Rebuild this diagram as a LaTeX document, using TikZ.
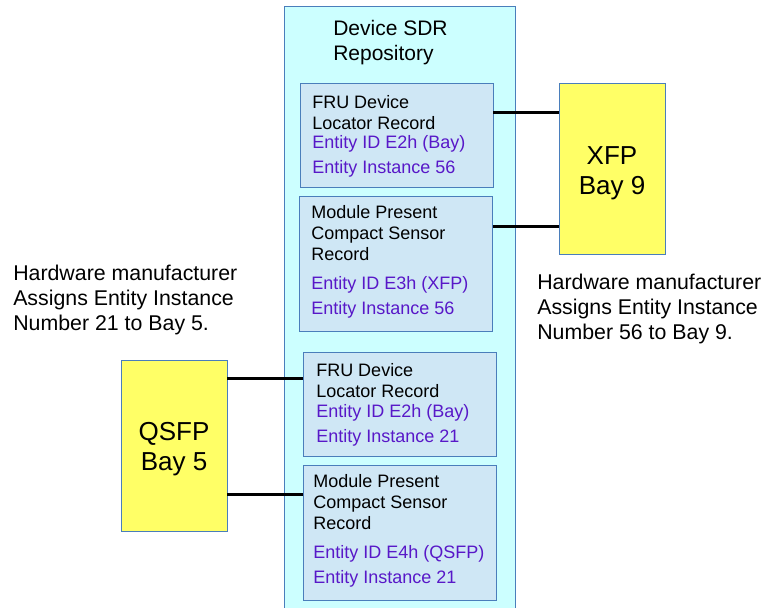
\documentclass[tikz,border=0pt]{standalone}
\usepackage{fontspec}
\setmainfont{Liberation Sans}
\usepackage{tikz}
\usetikzlibrary{positioning}
\definecolor{repocyan}{HTML}{CCFFFF}
\definecolor{recblue}{HTML}{CFE7F5}
\definecolor{edgeblue}{HTML}{4A7EBB}
\definecolor{bayyellow}{HTML}{FFFF66}
\definecolor{entpurple}{RGB}{88,24,200}

\begin{document}
\begin{tikzpicture}[x=0.75pt, y=-0.75pt,
  record/.style={draw=edgeblue, fill=recblue, line width=0.75pt, outer sep=0pt, minimum width=144.75pt},
  bay/.style={draw=edgeblue, fill=bayyellow, line width=0.75pt, outer sep=0pt, minimum width=79.5pt, minimum height=128.25pt},
  baytext/.style={align=center, inner sep=0pt, font=\fontsize{19.5}{22.5}\selectfont},
  rectext/.style={anchor=base west, align=left, inner sep=0pt, font=\fontsize{13.5}{15.5}\selectfont},
  idtext/.style={rectext, text=entpurple, font=\fontsize{13.5}{18.5}\selectfont},
  note/.style={anchor=base west, align=left, inner sep=0pt, font=\fontsize{16}{18.75}\selectfont},
  link/.style={line width=2.25pt}]
  \useasboundingbox (0,0) rectangle (764,607);
  % Repository column runs off the bottom of the page
  % (text nodes are placed by the baseline of their last line)
  \node[fill=repocyan, draw=edgeblue, line width=0.75pt, minimum width=173.25pt, minimum height=454.5pt, outer sep=0pt] (repo) at (399.5,309) {};
  \node[anchor=base west, align=left, inner sep=0pt, font=\fontsize{15.75}{18.75}\selectfont] (title) at (333,60) {Device SDR\\Repository};
  % Records for the XFP bay
  \node[record, minimum height=78pt] (fru1) at (396.5,135) {};
  \node[rectext] (fru1txt) at (312,129) {FRU Device\\Locator Record};
  \node[idtext] (fru1id) at (312,173) {Entity ID E2h (Bay)\\Entity Instance 56};
  \node[record, minimum height=101.25pt] (mps1) at (396,264) {};
  \node[rectext] (mps1txt) at (311,260) {Module Present\\Compact Sensor\\Record};
  \node[idtext] (mps1id) at (311,314) {Entity ID E3h (XFP)\\Entity Instance 56};
  % Records for the QSFP bay
  \node[record, minimum height=78pt] (fru2) at (399.5,404) {};
  \node[rectext] (fru2txt) at (316,397) {FRU Device\\Locator Record};
  \node[idtext] (fru2id) at (316,442) {Entity ID E2h (Bay)\\Entity Instance 21};
  \node[record, minimum height=101.25pt] (mps2) at (399.5,533) {};
  \node[rectext] (mps2txt) at (313,529) {Module Present\\Compact Sensor\\Record};
  \node[idtext] (mps2id) at (313,583) {Entity ID E4h (QSFP)\\Entity Instance 21};
  % Bays
  \node[bay] (xfp) at (612,168.5) {};
  \node[baytext] (xfptxt) at ([yshift=-3.75pt]xfp.center) {XFP\\Bay 9};
  \node[bay] (qsfp) at (174,445.5) {};
  \node[baytext] (qsfptxt) at ([yshift=-3pt]qsfp.center) {QSFP\\Bay 5};
  % Connectors
  \draw[link] (fru1.13.4) -- (xfp.west |- fru1.13.4);
  \draw[link] (mps1.21.1) -- (xfp.west |- mps1.21.1);
  \draw[link] (fru2.165.5) -- (qsfp.east |- fru2.165.5);
  \draw[link] (mps2.158) -- (qsfp.east |- mps2.158);
  % Notes
  \node[note] (leftnote) at (13,330) {Hardware manufacturer\\Assigns Entity Instance\\Number 21 to Bay 5.};
  \node[note] (rightnote) at (537,339) {Hardware manufacturer\\Assigns Entity Instance\\Number 56 to Bay 9.};
\end{tikzpicture}
\end{document}
